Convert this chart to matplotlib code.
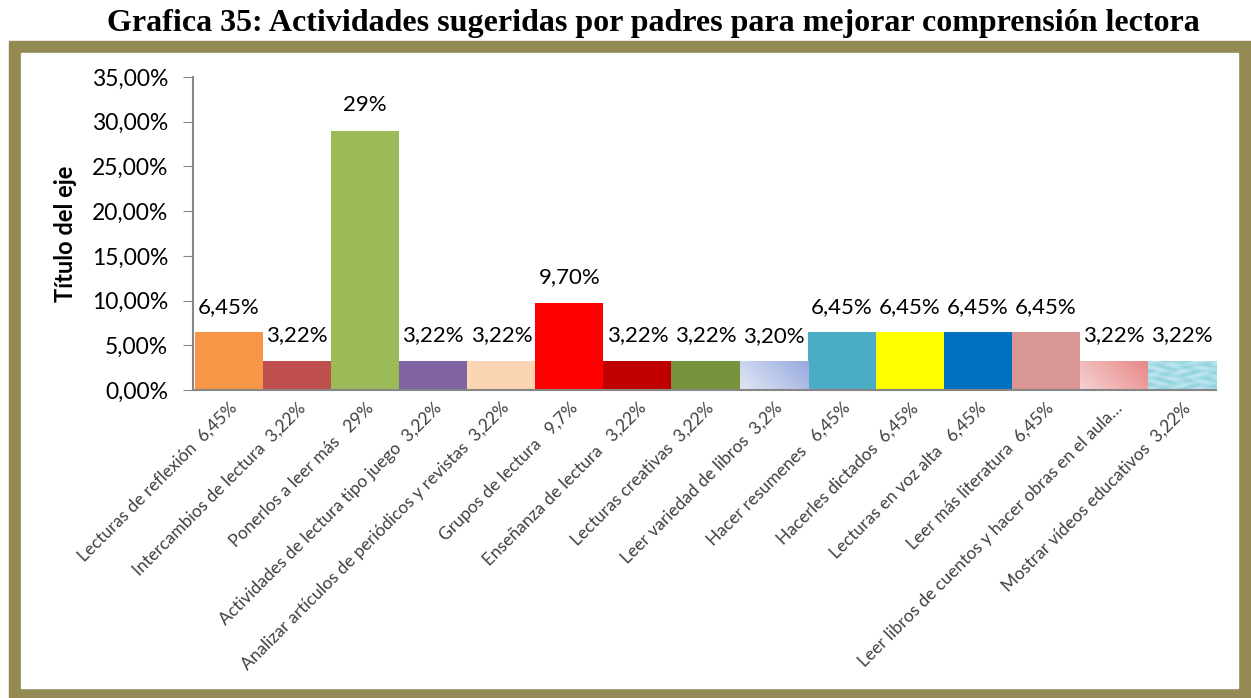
import numpy as np
import matplotlib
matplotlib.use("Agg")
import matplotlib.pyplot as plt
from matplotlib.patches import Rectangle
from matplotlib.ticker import FuncFormatter

# Actividades sugeridas por padres
categorias = [
    "Lecturas de reflexión  6,45%",
    "Intercambios de lectura  3,22%",
    "Ponerlos a leer más   29%",
    "Actividades de lectura tipo juego  3,22%",
    "Analizar artículos de periódicos y revistas  3,22%",
    "Grupos de lectura   9,7%",
    "Enseñanza de lectura   3,22%",
    "Lecturas creativas  3,22%",
    "Leer variedad de libros  3,2%",
    "Hacer resumenes   6,45%",
    "Hacerles dictados  6,45%",
    "Lecturas en voz alta   6,45%",
    "Leer más literatura  6,45%",
    "Leer libros de cuentos y hacer obras en el aula…",
    "Mostrar vídeos educativos  3,22%",
]
valores = [6.45, 3.22, 29, 3.22, 3.22, 9.70, 3.22, 3.22, 3.20,
           6.45, 6.45, 6.45, 6.45, 3.22, 3.22]
etiquetas = ["6,45%", "3,22%", "29%", "3,22%", "3,22%", "9,70%", "3,22%",
             "3,22%", "3,20%", "6,45%", "6,45%", "6,45%", "6,45%",
             "3,22%", "3,22%"]
colores = ["#F79646", "#C0504D", "#9BBB59", "#8064A2", "#FCD5B5", "#FF0000",
           "#C00000", "#77933C", "#B9C6EA", "#4BACC6", "#FFFF00", "#0070C0",
           "#D99694", "#F0B0B0", "#A8DDE8"]

W, H = 1251, 698
fig = plt.figure(figsize=(W / 100, H / 100), dpi=100)

# marco color oliva
fig.patches.append(Rectangle((9 / W, 0), 1 - 9 / W, 1 - 41 / H,
                             transform=fig.transFigure, color="#948A54", zorder=-2))
fig.patches.append(Rectangle((21 / W, 10 / H), (1238 - 21) / W, (688 - 53) / H,
                             transform=fig.transFigure, color="white", zorder=-1))

fig.text(0.522, 1 - 24 / H,
         "Grafica 35: Actividades sugeridas por padres para mejorar comprensión lectora",
         ha="center", va="center", fontsize=23, fontweight="bold",
         family="Liberation Serif")

ax = fig.add_axes([193 / W, (H - 390) / H, (1216 - 193) / W, (390 - 77) / H])
ax.set_facecolor("none")

x = np.arange(len(valores))
fracs = [v / 100 for v in valores]
barras = ax.bar(x, fracs, width=1.0, color=colores, zorder=2)

# rellenos degradados / texturados
def degradado(c1, c2, n=64):
    c1 = np.array(matplotlib.colors.to_rgb(c1))
    c2 = np.array(matplotlib.colors.to_rgb(c2))
    gx, gy = np.meshgrid(np.linspace(0, 1, n), np.linspace(0, 1, n))
    t = np.clip(0.7 * gx + 0.3 * (1 - gy), 0, 1)[..., None]
    return c1 * (1 - t) + c2 * t

def textura(base, n=80):
    b = np.array(matplotlib.colors.to_rgb(base))
    gx, gy = np.meshgrid(np.linspace(0, 6, n), np.linspace(0, 6, n))
    m = 0.5 + 0.25 * np.sin(3.1 * gx + 1.7 * np.sin(2.3 * gy)) + 0.25 * np.sin(4.3 * gy + 2.1 * np.cos(1.3 * gx))
    m = np.clip(m, 0, 1)[..., None]
    return b * (1 - 0.45 * m) + np.ones(3) * 0.45 * m

rellenos = {8: degradado("#E2E7F4", "#97AAE0"),
            13: degradado("#F6D2D2", "#E88686"),
            14: textura("#8FD3E0")}
for i, img in rellenos.items():
    b = barras[i]
    im = ax.imshow(img, extent=(b.get_x(), b.get_x() + b.get_width(), 0, b.get_height()),
                   aspect="auto", zorder=2.5, origin="upper")
    im.set_clip_path(b)

for xi, f, lab in zip(x, fracs, etiquetas):
    ax.annotate(lab, (xi, f), xytext=(0, 18.5), textcoords="offset points",
                ha="center", va="center", fontsize=16, family="Lato")

ax.set_xlim(-0.53, 14.5)
ax.set_ylim(0, 0.35)
ax.set_yticks(np.arange(0, 0.351, 0.05))
ax.yaxis.set_major_formatter(FuncFormatter(lambda v, p: f"{v * 100:.2f}%".replace(".", ",")))
ax.set_xticks(x)
ax.set_xticklabels(categorias, rotation=45, ha="right", rotation_mode="anchor",
                   fontsize=12.5, family="Lato", color="#404040")
ax.tick_params(axis="x", length=0, pad=7)
ax.tick_params(axis="y", length=7, color="#868686", labelsize=16.5, pad=11)
for lbl in ax.get_yticklabels():
    lbl.set_family("Lato")

for s in ["top", "right"]:
    ax.spines[s].set_visible(False)
for s in ["left", "bottom"]:
    ax.spines[s].set_color("#868686")
    ax.spines[s].set_linewidth(1.5)
    ax.spines[s].set_zorder(3)

ax.set_ylabel("Título del eje", fontsize=17, fontweight="bold", family="Lato")
ax.yaxis.set_label_coords(-0.113, 0.5)

fig.savefig("out.png", dpi=100)
